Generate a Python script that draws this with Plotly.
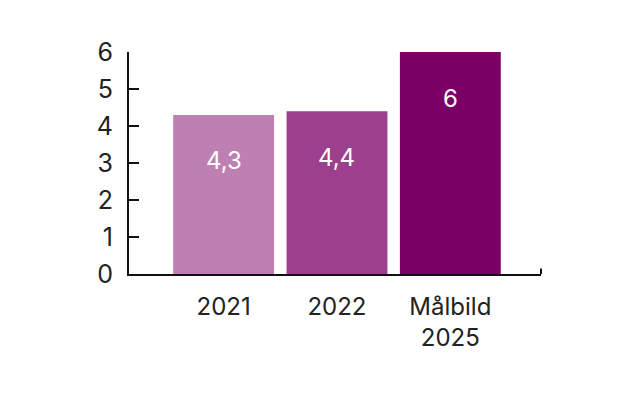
import plotly.graph_objects as go

categories = ["2021", "2022", "Målbild<br>2025"]
values = [4.3, 4.4, 6]
colors = ["#BE7FB3", "#9C3F8C", "#7A0066"]
y_ticks = [0, 1, 2, 3, 4, 5, 6]

FONT = "Inter, Roboto, sans-serif"

fig = go.Figure()
fig.add_trace(go.Bar(
    x=list(range(len(categories))), y=values,
    marker=dict(color=colors, line=dict(width=0)),
    width=0.89, hoverinfo="skip",
))

for i, v in enumerate(values):
    fig.add_annotation(
        x=i, y=v, text=f"{v:g}".replace(".", ","),
        showarrow=False, yshift=-46, yanchor="middle",
        font=dict(family=FONT, size=24, color="white"),
    )

fig.add_shape(type="line", xref="paper", yref="y", x0=1, x1=1, y0=0, y1=0.15,
              line=dict(color="#111", width=2))

fig.update_layout(
    width=640, height=394,
    margin=dict(l=121, r=107, t=44, b=128),
    paper_bgcolor="white", plot_bgcolor="white",
    showlegend=False,
    font=dict(family=FONT, size=24, color="#222"),
    xaxis=dict(
        tickmode="array", tickvals=list(range(len(categories))), ticktext=categories,
        range=[-0.835, 2.8], showgrid=False, zeroline=False,
        showline=True, linecolor="#111", linewidth=2, ticks="",
        ticklabelstandoff=10, tickfont=dict(size=24),
    ),
    yaxis=dict(
        range=[0, 6], tickvals=y_ticks, showgrid=False, zeroline=False,
        showline=True, linecolor="#111", linewidth=2,
        ticks="inside", ticklen=10, tickwidth=2, tickcolor="#111",
        ticklabelstandoff=9, tickfont=dict(size=25),
    ),
)

fig.write_html("out.html")
